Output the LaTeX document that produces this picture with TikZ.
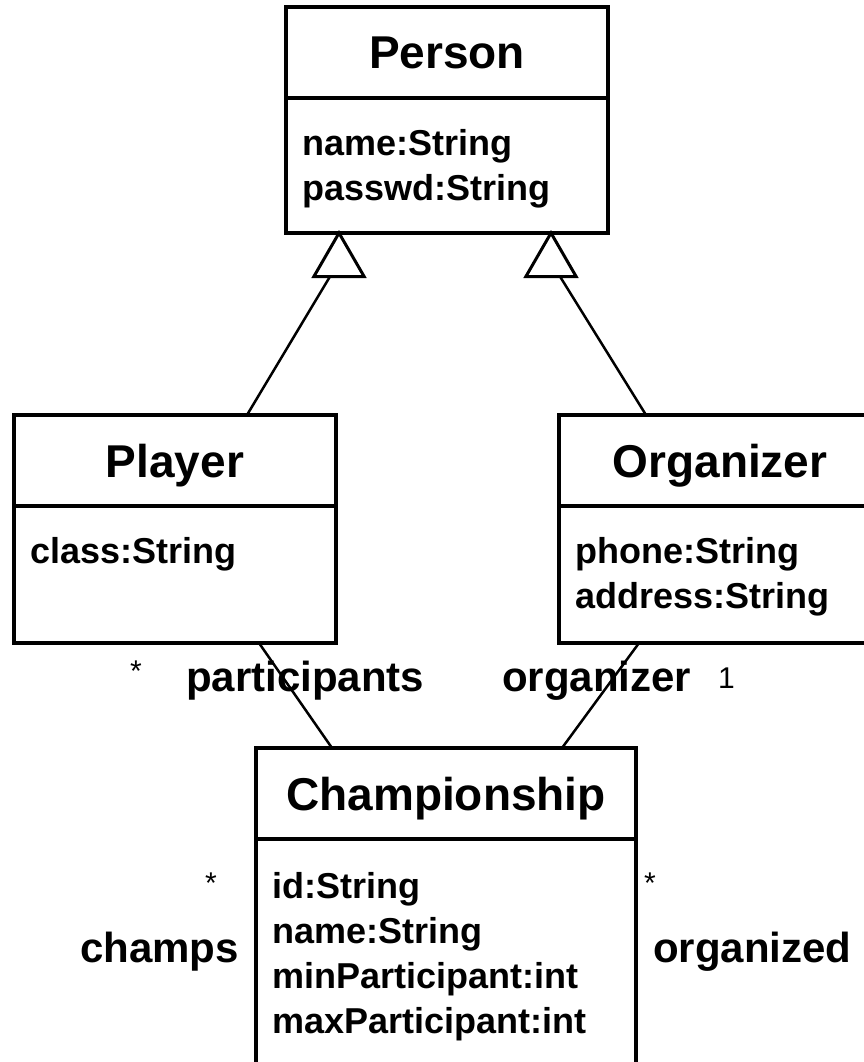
\documentclass[tikz,border=0pt]{standalone}
\usepackage{fontspec}
\setmainfont{Liberation Sans}
\usetikzlibrary{shapes.geometric}

\begin{document}
\begin{tikzpicture}[x=1pt, y=-1pt,
  umlbox/.style={draw, line width=3.5pt, outer sep=0pt, inner sep=0pt, minimum width=322pt},
  classname/.style={umlbox, minimum height=91pt, text height=33pt, text depth=0pt,
    font=\fontsize{46}{46}\selectfont\bfseries},
  compartment/.style={umlbox, minimum height=137pt},
  attrs/.style={inner sep=0pt, align=left, font=\fontsize{36}{45}\selectfont\bfseries},
  role/.style={inner sep=0pt, font=\fontsize{42}{42}\selectfont\bfseries},
  mult/.style={inner sep=0pt, font=\fontsize{30}{30}\selectfont},
  gen/.style={draw, regular polygon, regular polygon sides=3, minimum size=58pt,
    inner sep=0pt, outer sep=0pt, line width=3pt},
  link/.style={line width=2.5pt}]
\useasboundingbox (0,0) rectangle (864,1062);
\clip (0,0) rectangle (864,1062);

% Person
\node[classname, anchor=north west] (person) at (286,7) {Person};
\node[compartment, minimum height=135pt, anchor=north] (personAttr) at (person.south) {};
\node[attrs, anchor=north west] (personText) at ([shift={(16,31)}]personAttr.north west) {name:String\\passwd:String};

% Player
\node[classname, anchor=north west] (player) at (14,415) {Player};
\node[compartment, anchor=north] (playerAttr) at (player.south) {};
\node[attrs, anchor=north west] (playerText) at ([shift={(16,31)}]playerAttr.north west) {class:String};

% Organizer
\node[classname, anchor=north west] (organizer) at (559,415) {Organizer};
\node[compartment, anchor=north] (organizerAttr) at (organizer.south) {};
\node[attrs, anchor=north west] (organizerText) at ([shift={(16,31)}]organizerAttr.north west) {phone:String\\address:String};

% Championship
\node[classname, minimum width=380pt, anchor=north west] (champ) at (256,748) {Championship};
\node[compartment, minimum width=380pt, minimum height=300pt, anchor=north] (champAttr) at (champ.south) {};
\node[attrs, anchor=north west] (champText) at ([shift={(16,33)}]champAttr.north west) {id:String\\name:String\\minParticipant:int\\maxParticipant:int};

% generalizations
\node[gen, anchor=north] (genPlayer) at ([xshift=-108pt]personAttr.south) {};
\node[gen, anchor=north] (genOrganizer) at ([xshift=104pt]personAttr.south) {};
\draw[link] ([xshift=72pt]player.north) -- ([xshift=-9pt]genPlayer.south);
\draw[link] ([xshift=-74pt]organizer.north) -- ([xshift=9pt]genOrganizer.south);

% associations
\draw[link] ([xshift=84pt]playerAttr.south) -- ([xshift=-114pt]champ.north);
\draw[link] ([xshift=-81pt]organizerAttr.south) -- ([xshift=116pt]champ.north);

% association ends
\node[mult, anchor=base] (multPart) at (136,681) {*};
\node[role, anchor=base west] (rolePart) at (186,691) {participants};
\node[role, anchor=base west] (roleOrg) at (502,691) {organizer};
\node[mult, anchor=base west] (multOrg) at (718,688) {1};
\node[mult, anchor=base] (multChamps) at (211,893) {*};
\node[role, anchor=base east] (roleChamps) at (239,962) {champs};
\node[mult, anchor=base] (multOrgd) at (650,893) {*};
\node[role, anchor=base west] (roleOrgd) at (653,962) {organized};

\end{tikzpicture}
\end{document}
